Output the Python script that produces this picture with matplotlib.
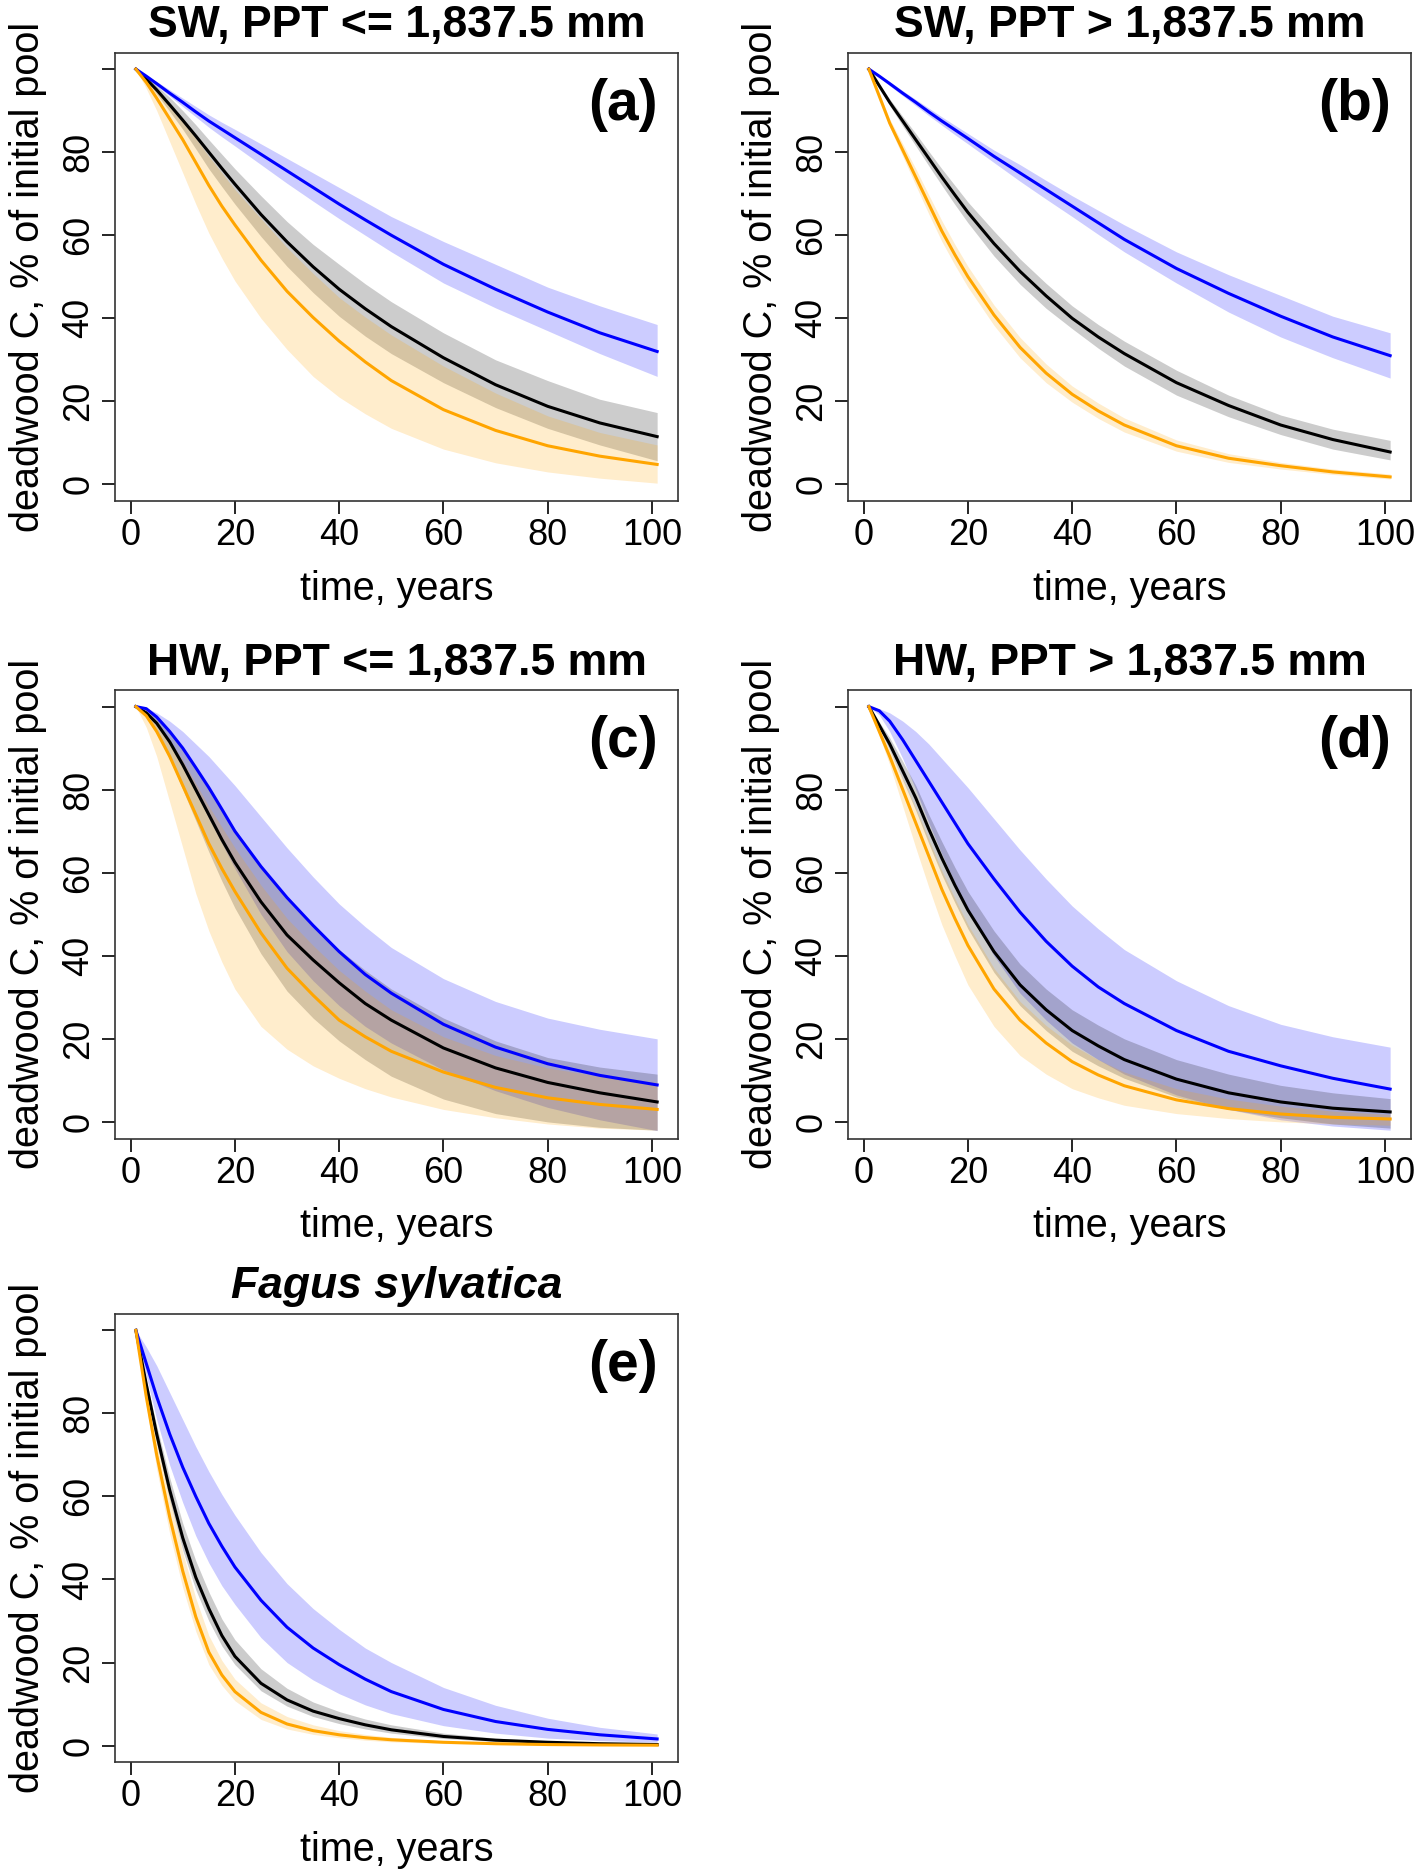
import numpy as np
import matplotlib
matplotlib.use("Agg")
import matplotlib.pyplot as plt

plt.rcParams['font.family'] = ['Liberation Sans', 'DejaVu Sans']

years = [1, 3, 5, 7.5, 10, 12.5, 15, 17.5, 20, 25, 30, 35, 40, 45, 50, 60, 70, 80, 90, 101]

# panel (a) SW, PPT <= 1,837.5 mm
a_blue = [100, 98.3, 96.5, 94.2, 92, 89.7, 87.5, 85.5, 83.5, 79.5, 75.5, 71.5, 67.5, 63.7, 60, 53, 47, 41.5, 36.5, 32]
a_blue_hi = [100, 98.5, 97, 95, 93, 91, 89, 87.2, 85.5, 82, 78.5, 75, 71.5, 68, 64.5, 58.5, 53, 47.5, 43, 38.5]
a_blue_lo = [100, 98.1, 96, 93.5, 91, 88.5, 86, 83.7, 81.5, 77, 72.5, 68.2, 64, 60, 56, 48.5, 42.5, 37, 31.5, 26]
a_black = [100, 97.6, 95, 91.4, 87.7, 83.9, 80, 76.1, 72.3, 65, 58.4, 52.4, 47, 42.3, 38, 30.5, 24, 18.8, 14.8, 11.5]
a_black_hi = [100, 98.3, 96, 93.2, 90, 86.6, 83, 79.5, 76, 69.5, 63.3, 57.8, 53, 48.3, 44, 36.5, 30, 25, 20.5, 17.3]
a_black_lo = [100, 97.3, 94, 89.8, 85.5, 80.8, 76, 71.7, 67.5, 59.7, 52.5, 46.2, 40.5, 35.7, 31.5, 24.5, 18.5, 13.5, 9.5, 5.7]
a_orange = [100, 96.8, 93, 88, 83, 77.5, 72, 67, 62.5, 54, 46.5, 40.2, 34.5, 29.5, 25, 18, 13, 9.3, 6.8, 4.8]
a_orange_hi = [100, 97.8, 95, 91.3, 87.5, 83.3, 79, 75, 71, 64, 57, 50.8, 45, 40.3, 36, 28.5, 22, 16.5, 12.5, 9.5]
a_orange_lo = [100, 95.3, 90, 82.5, 75, 67.5, 60.5, 54.5, 49, 40, 32.5, 26, 21, 17, 13.5, 8.5, 5.2, 3, 1.5, 0.3]

# panel (b) SW, PPT > 1,837.5 mm
b_blue = [100, 98.3, 96.5, 94.2, 92, 89.7, 87.5, 85.4, 83.3, 79, 75, 71, 67, 63, 59, 52, 46, 40.5, 35.5, 31]
b_blue_hi = [100, 98.5, 97, 94.8, 92.7, 90.6, 88.5, 86.5, 84.5, 80.5, 77, 73.2, 69.5, 66, 62.5, 56, 50.5, 45.5, 40.5, 36.5]
b_blue_lo = [100, 98.1, 96, 93.6, 91.2, 88.8, 86.5, 84.2, 82, 77.5, 73, 68.7, 64.5, 60.2, 56, 48.5, 41.5, 35.5, 30.5, 25.6]
b_black = [100, 96, 92, 87.5, 83, 78.5, 74, 69.7, 65.5, 58, 51.3, 45.4, 40, 35.5, 31.5, 24.5, 19, 14.3, 10.8, 7.8]
b_black_hi = [100, 96.4, 92.8, 88.6, 84.5, 80.2, 76, 72, 68, 61, 54.3, 48.4, 43, 38.5, 34.5, 27.5, 21.5, 16.7, 13.3, 10.6]
b_black_lo = [100, 95.6, 91.2, 86.3, 81.5, 76.7, 72, 67.4, 63, 55, 48.2, 42.4, 37.5, 32.8, 28.5, 21.5, 16.3, 12, 8.5, 5.9]
b_orange = [100, 93.5, 87, 80.5, 74, 67.5, 61, 55.3, 50, 40.8, 33, 26.8, 21.7, 17.7, 14.3, 9.3, 6.3, 4.5, 3, 1.8]
b_orange_hi = [100, 94, 88, 82, 76, 69.7, 63.5, 57.8, 52.5, 43.2, 35.4, 29, 23.7, 19.6, 16, 10.7, 7.4, 5.3, 3.7, 2.5]
b_orange_lo = [100, 93, 86, 79, 72, 65.1, 58.5, 52.8, 47.5, 38.3, 30.5, 24.5, 19.8, 15.9, 12.6, 8, 5.3, 3.7, 2.4, 1.3]

# panel (c) HW, PPT <= 1,837.5 mm
c_blue = [100, 99.5, 97.5, 94, 90, 85.3, 80.5, 75.3, 70, 61.5, 54, 47.3, 41, 35.5, 31, 23.5, 18, 14, 11.2, 8.9]
c_blue_hi = [100, 99.7, 98.5, 96.5, 94, 91, 88, 84.5, 81, 73.5, 66, 59, 52.5, 47, 42, 34.5, 29, 25, 22.3, 20]
c_blue_lo = [100, 99, 96.5, 91.5, 86, 79.5, 73, 67, 61, 50, 41, 34, 28, 23, 19, 12.5, 7.5, 3.5, 0.5, -2.1]
c_black = [100, 98.5, 96, 91.5, 86, 80, 74, 68, 62.5, 53, 45, 39, 33.5, 28.5, 24.5, 17.8, 13, 9.5, 7, 4.8]
c_black_hi = [100, 99, 97.5, 94, 90, 85, 80, 75.3, 70.5, 61.5, 53.5, 47, 41.5, 36.5, 32, 25, 19.5, 15.5, 13.2, 11.5]
c_black_lo = [100, 98, 94.5, 87.5, 80, 72.5, 65, 58, 51.5, 40.5, 31.5, 25, 19.5, 15, 11, 5.5, 2, 0, -1.3, -2]
c_orange = [100, 97.8, 94, 88, 81, 74, 67, 61, 55.5, 45.5, 37, 30.5, 24.5, 20.5, 17, 12, 8.3, 5.8, 4.2, 3]
c_orange_hi = [100, 98.5, 96, 92, 87, 81.5, 76, 71, 66, 57, 49, 42.5, 36.5, 31.5, 27, 20.5, 16, 13, 11, 9.5]
c_orange_lo = [100, 95, 88, 77, 66, 55, 46, 38.5, 32, 23, 17.5, 13.5, 10.5, 8, 6, 3, 1, -0.5, -1.5, -2]

# panel (d) HW, PPT > 1,837.5 mm
d_blue = [100, 99, 96.5, 92, 87, 82, 77, 72, 67, 58.5, 50.5, 43.5, 37.5, 32.5, 28.5, 22, 17, 13.5, 10.5, 7.9]
d_blue_hi = [100, 99.5, 98.5, 96.5, 94, 91, 87.5, 84, 80.5, 73, 65.5, 58.5, 52, 46.5, 41.5, 34, 28, 23.5, 20.5, 18]
d_blue_lo = [100, 98, 94, 87.5, 80, 72, 64.5, 57.5, 51, 40, 31, 24.5, 19, 15, 11.5, 6.5, 3, 0.5, -1, -2]
d_black = [100, 95.5, 91, 84.5, 78, 70.5, 63.5, 57, 51, 41, 33, 27, 22, 18.3, 15, 10.3, 7, 4.8, 3.3, 2.4]
d_black_hi = [100, 96.3, 92.5, 86.8, 81, 74, 67.5, 61.3, 55.5, 46, 38, 32, 27, 23.3, 20, 15, 11.5, 8.8, 7, 5.6]
d_black_lo = [100, 94.8, 89.5, 82.3, 75, 67, 59.5, 52.8, 46.5, 36, 28, 22, 17, 13.5, 10.5, 6, 3, 1, -0.5, -1.5]
d_orange = [100, 94, 88, 80, 72, 64, 56, 49, 42.5, 32, 24.5, 19, 14.5, 11.3, 8.7, 5.3, 3.2, 1.9, 1.1, 0.7]
d_orange_hi = [100, 94.8, 89.5, 82.5, 75.5, 68, 60.5, 53.8, 47.5, 37, 29, 23.2, 18.5, 15, 12, 8, 5.5, 3.8, 2.6, 1.8]
d_orange_lo = [100, 93, 86, 76, 66, 56.5, 47.5, 40, 33, 23, 16, 11.5, 8, 5.8, 4, 2, 0.8, 0, -0.5, -0.8]

# panel (e) Fagus sylvatica
e_blue = [100, 92, 84, 75, 67, 60, 53.5, 48, 43, 35, 28.5, 23.5, 19.5, 16, 13, 8.7, 5.8, 3.9, 2.6, 1.6]
e_blue_hi = [100, 96, 91.5, 85, 78.5, 72, 66, 60.5, 55.5, 46.5, 39, 33, 28, 23.5, 20, 14, 9.7, 6.6, 4.4, 2.8]
e_blue_lo = [100, 89, 78.5, 67.5, 58.5, 50.5, 44, 38.5, 34, 26, 20, 15.8, 12.5, 9.8, 7.7, 4.8, 3, 1.8, 1.2, 0.8]
e_black = [100, 87, 75, 61.5, 50, 40.5, 33, 26.5, 21.5, 15, 11, 8.3, 6.5, 5, 3.8, 2.2, 1.3, 0.8, 0.45, 0.25]
e_black_hi = [100, 88, 77, 64.5, 53.5, 44.5, 37, 30.5, 25.5, 18.5, 13.8, 10.5, 8.2, 6.4, 5, 3, 1.8, 1.1, 0.7, 0.4]
e_black_lo = [100, 86, 73, 59, 47, 37.5, 30, 24, 19.5, 13.2, 9.5, 7, 5.3, 4, 3, 1.7, 1, 0.6, 0.3, 0.15]
e_orange = [100, 84, 70, 55, 42, 31, 22.5, 17, 13, 8, 5.2, 3.6, 2.6, 1.9, 1.4, 0.8, 0.45, 0.25, 0.15, 0.1]
e_orange_hi = [100, 86, 74, 59.5, 46.5, 35.5, 26.5, 20.5, 16, 10.3, 7, 5, 3.6, 2.7, 2, 1.1, 0.6, 0.35, 0.2, 0.12]
e_orange_lo = [100, 82, 66.5, 51, 38, 27.5, 19.5, 14.5, 10.8, 6.3, 4, 2.7, 1.9, 1.3, 0.9, 0.5, 0.25, 0.12, 0.06, 0.02]

panels = [
    ("SW, PPT <= 1,837.5 mm", "(a)", a_black, a_black_lo, a_black_hi, a_blue, a_blue_lo, a_blue_hi, a_orange, a_orange_lo, a_orange_hi),
    ("SW, PPT > 1,837.5 mm", "(b)", b_black, b_black_lo, b_black_hi, b_blue, b_blue_lo, b_blue_hi, b_orange, b_orange_lo, b_orange_hi),
    ("HW, PPT <= 1,837.5 mm", "(c)", c_black, c_black_lo, c_black_hi, c_blue, c_blue_lo, c_blue_hi, c_orange, c_orange_lo, c_orange_hi),
    ("HW, PPT > 1,837.5 mm", "(d)", d_black, d_black_lo, d_black_hi, d_blue, d_blue_lo, d_blue_hi, d_orange, d_orange_lo, d_orange_hi),
    ("Fagus sylvatica", "(e)", e_black, e_black_lo, e_black_hi, e_blue, e_blue_lo, e_blue_hi, e_orange, e_orange_lo, e_orange_hi),
]

W, H = 1418, 1873
fig = plt.figure(figsize=(W / 100, H / 100), dpi=100)

# axes boxes in pixels: left, top
col_left = [115, 848]
row_top = [52.5, 690, 1313.7]
box_w, box_h = 563, 448.5

for i, (title, letter, bk, bk_lo, bk_hi, bl, bl_lo, bl_hi, og, og_lo, og_hi) in enumerate(panels):
    r, c = divmod(i, 2)
    left = col_left[c]
    top = row_top[r]
    ax = fig.add_axes([left / W, 1 - (top + box_h) / H, box_w / W, box_h / H])

    ax.fill_between(years, bl_lo, bl_hi, color='blue', alpha=0.2, lw=0)
    ax.fill_between(years, bk_lo, bk_hi, color='black', alpha=0.2, lw=0)
    ax.fill_between(years, og_lo, og_hi, color='orange', alpha=0.2, lw=0)
    ax.plot(years, bk, color='black', lw=2.2)
    ax.plot(years, bl, color='blue', lw=2.2)
    ax.plot(years, og, color='orange', lw=2.2)

    ax.set_xlim(-3, 105)
    ax.set_ylim(-4, 104)
    ax.set_xticks([0, 20, 40, 60, 80, 100])
    ax.set_yticks([0, 20, 40, 60, 80, 100])
    ax.set_yticklabels(['0', '20', '40', '60', '80', ''], rotation=90, va='center')
    ax.tick_params(direction='out', length=9.4, width=1.2, labelsize=26, colors='black')
    ax.tick_params(axis='x', pad=3)
    ax.tick_params(axis='y', pad=4)
    for sp in ax.spines.values():
        sp.set_linewidth(1.2)
        sp.set_color('#333333')

    ax.set_xlabel("time, years", fontsize=28.5, labelpad=12)
    ax.set_ylabel("deadwood C, % of initial pool", fontsize=28.5, labelpad=10)
    if letter == "(e)":
        ax.set_title(title, fontsize=32, fontweight='bold', style='italic', pad=11)
    else:
        ax.set_title(title, fontsize=32, fontweight='bold', pad=11)
    ax.text(0.9645, 0.883, letter, transform=ax.transAxes, ha='right', va='center',
            fontsize=41, fontweight='bold')

fig.savefig("out.png", dpi=100)
